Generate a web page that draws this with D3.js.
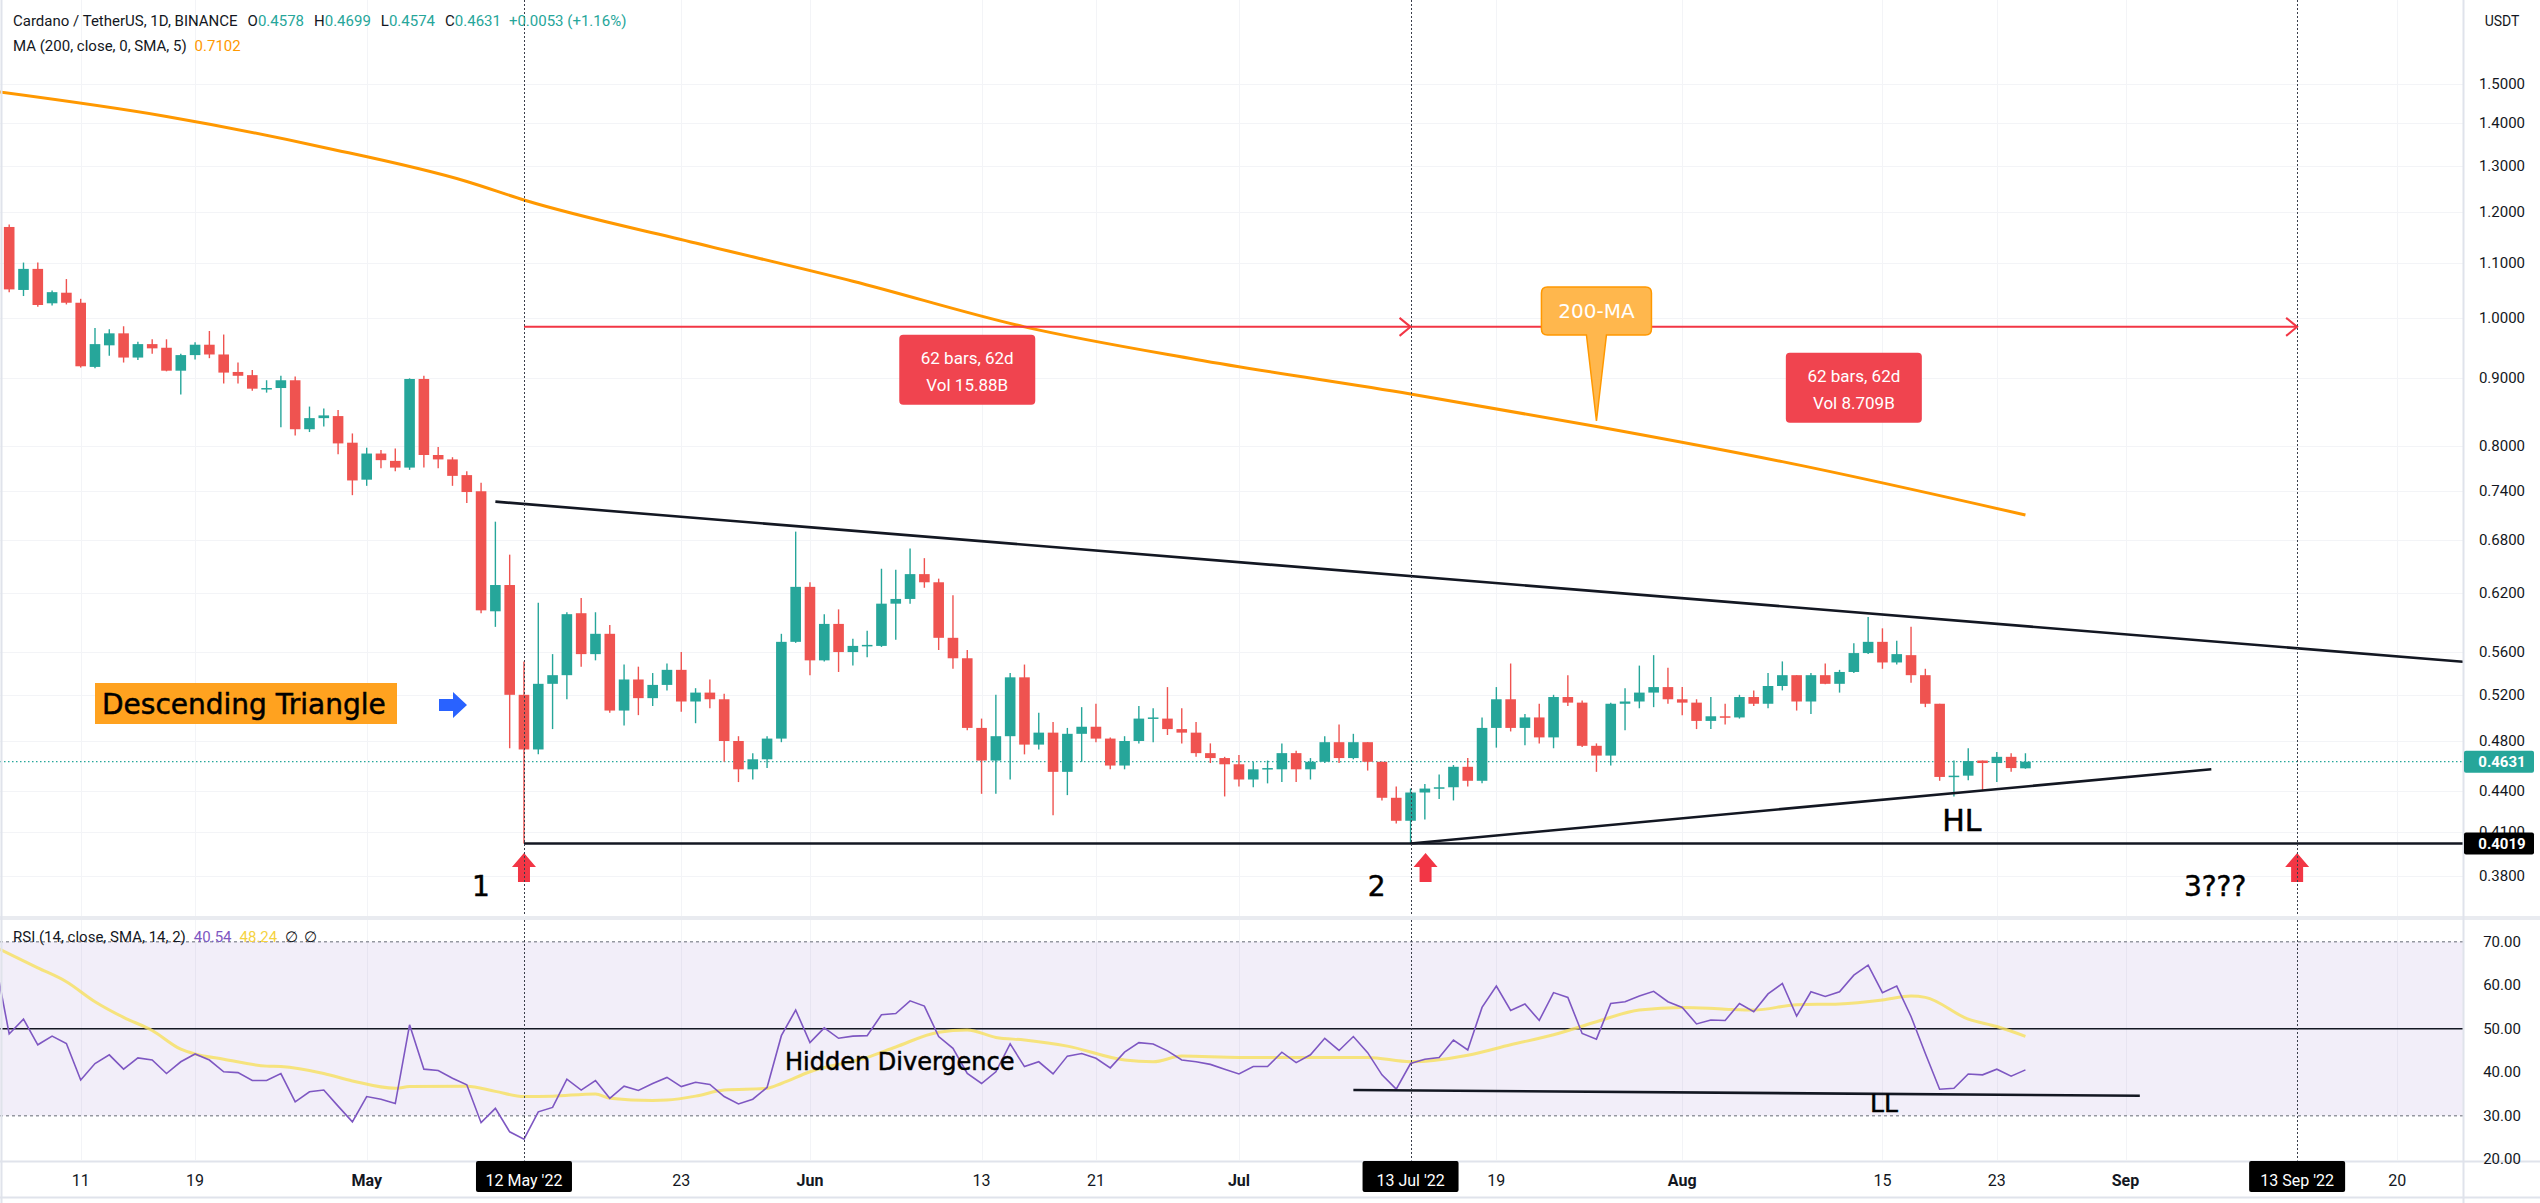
<!DOCTYPE html>
<meta charset="utf-8">
<script src="https://d3js.org/d3.v7.min.js"></script>
<style>
  body { margin: 0; background: #fff; }
  text { font-family: Roboto, "Liberation Sans", sans-serif; fill: #131722; }
  .note { font-family: "DejaVu Sans", Verdana, sans-serif; fill: #000; stroke: #000; stroke-width: 0.5px; }
</style>
<body>
<div id="chart"></div>
<script>

// ---- values ----
// daily ADA/USDT bars, one per day starting at firstBar
var firstBar = "2022-04-06";
var opens = [1.170,1.049,1.088,1.025,1.044,1.026,0.918,0.953,0.973,0.933,
  0.955,0.949,0.912,0.937,0.954,0.938,0.910,0.905,0.884,0.885,
  0.897,0.824,0.840,0.843,0.805,0.755,0.790,0.780,0.771,0.899,
  0.788,0.782,0.761,0.740,0.601,0.629,0.520,0.473,0.530,0.538,
  0.599,0.558,0.578,0.506,0.534,0.517,0.529,0.543,0.514,0.522,
  0.516,0.480,0.457,0.465,0.482,0.570,0.627,0.552,0.588,0.560,
  0.566,0.566,0.609,0.614,0.641,0.632,0.574,0.554,0.491,0.464,
  0.484,0.536,0.477,0.487,0.455,0.486,0.492,0.482,0.460,0.480,
  0.499,0.499,0.490,0.487,0.470,0.466,0.461,0.449,0.457,0.457,
  0.470,0.457,0.463,0.479,0.466,0.479,0.463,0.435,0.418,0.439,
  0.442,0.443,0.459,0.448,0.491,0.516,0.491,0.500,0.483,0.518,
  0.513,0.476,0.468,0.512,0.514,0.522,0.527,0.516,0.513,0.497,
  0.501,0.500,0.518,0.512,0.528,0.538,0.514,0.538,0.530,0.541,
  0.559,0.570,0.550,0.557,0.538,0.512,0.451,0.452,0.464,0.462,
  0.467,0.4578];
var highs = [1.175,1.100,1.100,1.048,1.069,1.033,0.982,0.980,0.985,0.959,
  0.963,0.963,0.939,0.958,0.977,0.971,0.925,0.913,0.897,0.904,
  0.903,0.857,0.854,0.852,0.818,0.798,0.795,0.797,0.900,0.904,
  0.799,0.785,0.766,0.751,0.702,0.663,0.551,0.610,0.558,0.600,
  0.615,0.600,0.587,0.548,0.546,0.540,0.549,0.560,0.526,0.534,
  0.521,0.484,0.470,0.484,0.578,0.690,0.632,0.598,0.603,0.573,
  0.581,0.647,0.646,0.670,0.659,0.636,0.618,0.562,0.499,0.520,
  0.540,0.548,0.504,0.496,0.491,0.509,0.512,0.483,0.484,0.510,
  0.508,0.527,0.508,0.496,0.478,0.467,0.4685,0.463,0.464,0.478,
  0.472,0.466,0.484,0.494,0.486,0.479,0.463,0.4435,0.442,0.4455,
  0.453,0.4604,0.466,0.500,0.527,0.549,0.503,0.512,0.520,0.538,
  0.515,0.478,0.513,0.526,0.547,0.557,0.545,0.527,0.516,0.518,
  0.512,0.520,0.524,0.540,0.551,0.538,0.540,0.549,0.543,0.5685,
  0.595,0.5835,0.571,0.585,0.544,0.512,0.464,0.474,0.464,0.471,
  0.470,0.4699];
var lows = [1.045,1.038,1.019,1.021,1.023,0.917,0.916,0.936,0.925,0.929,
  0.939,0.911,0.875,0.930,0.932,0.892,0.892,0.881,0.878,0.827,
  0.815,0.820,0.828,0.789,0.735,0.747,0.770,0.766,0.768,0.771,
  0.770,0.747,0.725,0.599,0.585,0.474,0.4019,0.469,0.490,0.516,
  0.546,0.552,0.504,0.493,0.502,0.510,0.524,0.505,0.495,0.508,
  0.463,0.447,0.449,0.458,0.479,0.569,0.538,0.551,0.541,0.547,
  0.555,0.565,0.572,0.609,0.626,0.562,0.544,0.489,0.438,0.438,
  0.449,0.469,0.473,0.422,0.437,0.463,0.479,0.457,0.457,0.478,
  0.479,0.485,0.478,0.467,0.462,0.436,0.4435,0.443,0.446,0.447,
  0.447,0.449,0.462,0.462,0.465,0.456,0.433,0.416,0.4019,0.419,
  0.434,0.433,0.4435,0.446,0.4745,0.488,0.4765,0.478,0.474,0.510,
  0.475,0.455,0.460,0.489,0.508,0.509,0.512,0.502,0.490,0.490,
  0.494,0.499,0.510,0.508,0.524,0.506,0.503,0.5295,0.522,0.540,
  0.558,0.544,0.548,0.531,0.509,0.448,0.436,0.4485,0.440,0.447,
  0.455,0.4574];
var closes = [1.050,1.088,1.022,1.045,1.026,0.919,0.955,0.973,0.933,0.955,
  0.948,0.912,0.937,0.954,0.938,0.909,0.904,0.884,0.885,0.897,
  0.824,0.840,0.844,0.804,0.754,0.790,0.781,0.771,0.899,0.788,
  0.782,0.760,0.739,0.602,0.629,0.520,0.473,0.530,0.538,0.598,
  0.558,0.578,0.506,0.534,0.517,0.529,0.543,0.514,0.522,0.516,
  0.480,0.457,0.465,0.482,0.570,0.627,0.552,0.588,0.560,0.566,
  0.567,0.609,0.614,0.641,0.632,0.574,0.554,0.491,0.464,0.484,
  0.536,0.477,0.487,0.455,0.486,0.492,0.482,0.460,0.480,0.499,
  0.500,0.490,0.487,0.470,0.466,0.461,0.449,0.457,0.458,0.470,
  0.457,0.463,0.479,0.466,0.479,0.463,0.435,0.418,0.439,0.442,
  0.443,0.459,0.448,0.491,0.516,0.491,0.500,0.483,0.518,0.513,
  0.476,0.468,0.512,0.514,0.522,0.527,0.516,0.513,0.497,0.501,
  0.500,0.518,0.512,0.528,0.538,0.514,0.538,0.530,0.541,0.559,
  0.570,0.550,0.558,0.538,0.512,0.451,0.452,0.4636,0.462,0.467,
  0.458,0.4631];

// 200 SMA, read at points along the orange line
var maDates = ["2022-04-05","2022-04-17","2022-04-28","2022-05-08","2022-05-12","2022-05-24",
  "2022-06-04","2022-06-16","2022-06-28","2022-07-13","2022-07-26","2022-08-08","2022-08-25"];
var maValues = [1.480,1.417,1.343,1.266,1.226,1.138,1.065,0.984,0.930,0.876,0.828,0.779,0.7102];

// RSI 14, one value per day from rsiFirstDay
var rsiFirstDay = "2022-04-05";
var rsiValues = [66.0,
  48.8,52.2,46.3,48.3,46.6,38.2,42.0,44.0,40.7,43.3,
  42.8,39.7,42.4,44.2,42.8,40.1,39.9,38.1,38.1,39.7,
  33.2,35.5,35.9,32.2,28.6,34.4,33.8,32.8,50.9,40.7,
  40.4,38.6,37.1,28.4,31.7,26.3,24.6,30.9,31.9,38.4,
  35.9,38.1,34.0,36.8,35.8,37.4,38.8,36.7,37.7,37.2,
  34.4,32.7,33.8,36.5,48.4,54.3,46.8,50.2,47.8,48.3,
  48.4,53.2,53.5,56.4,55.2,48.2,45.5,39.7,37.4,40.1,
  46.5,41.3,42.4,39.6,43.7,44.3,43.2,41.0,44.6,46.8,
  46.5,44.9,42.8,42.4,41.8,40.7,39.6,41.3,41.3,44.6,
  42.2,44.0,47.8,45.0,48.2,44.5,39.4,36.1,42.0,43.0,
  43.4,47.4,45.1,54.9,59.8,54.2,55.7,51.9,58.3,57.2,
  48.9,47.6,55.8,56.2,57.5,58.6,56.2,54.9,51.1,52.0,
  51.9,55.8,53.9,58.0,60.4,52.9,58.5,57.4,58.5,62.3,
  64.6,58.3,59.8,52.8,44.3,36.1,36.3,39.6,39.4,40.7,
  39.1,40.54];

// RSI-based SMA (yellow), read at points; day = bars after firstBar
var rsiMaDays = [-1,2,4,6,8,10,12,13,15,18,19,22,24,27,28,32,34,36,38,41,42,45,46,48,50,53,54,56,
  60,62,65,67,69,71,74,78,80,82,86,91,95,98,102,105,108,111,114,117,120,122,125,128,131,133,134,137,139,141];
var rsiMaValues = [68.8,64.0,60.8,56.2,52.6,49.6,45.3,44.2,43.0,41.4,41.3,39.7,38.0,36.3,36.7,36.8,35.6,34.4,34.5,35.0,34.0,33.5,33.6,34.5,35.9,36.3,37.4,40.1,
  43.4,45.8,49.2,49.7,48.0,47.4,46.0,42.8,42.4,43.7,43.4,43.4,43.4,42.4,43.9,46.3,48.6,51.6,54.3,54.9,54.5,54.3,55.5,55.7,56.6,57.5,57.2,52.2,50.5,48.24];

var priceTicks = [1.5,1.4,1.3,1.2,1.1,1.0,0.9,0.8,0.74,0.68,0.62,0.56,0.52,0.48,0.44,0.41,0.38];
var rsiTicks = [70,60,50,40,30,20];
var timeTickDates = ["2022-04-11","2022-04-19","2022-05-01","2022-05-23","2022-06-01","2022-06-13","2022-06-21",
  "2022-07-01","2022-07-19","2022-08-01","2022-08-15","2022-08-23","2022-09-01","2022-09-20"];
var timeTickLabels = ["11","19","May","23","Jun","13","21","Jul","19","Aug","15","23","Sep","20"];
var markedDates = ["2022-05-12","2022-07-13","2022-09-13"];
var markedLabels = ["12 May '22","13 Jul '22","13 Sep '22"];
var markedNames = ["1","2","3???"];
var rangeBoxes = [["62 bars, 62d","Vol 15.88B"],["62 bars, 62d","Vol 8.709B"]];

var lastPrice = 0.4631, supportPrice = 0.4019, rangePrice = 0.984;
var upperTrend = [["2022-05-10",0.7268],["2022-09-13",0.5637]];
var lowerTrend = [["2022-07-13",0.4019],["2022-09-07",0.457]];
var rsiTrend = [["2022-07-09",35.9],["2022-09-02",34.6]];
var calloutDate = "2022-07-26";

// ---- layout ----
var W = 2540, H = 1203;
var plotRight = 2463, mainBottom = 916, rsiTop = 920, rsiBottom = 1160, axisTop = 1161;
var green = "#26a69a", red = "#ef5350", dark = "#131722";

var parse = d3.utcParse("%Y-%m-%d");
var day = 864e5;
var t0 = parse(firstBar);

var bars = opens.map(function (o, i) {
  return { date: new Date(+t0 + i * day), o: o, h: highs[i], l: lows[i], c: closes[i] };
});
var rsi0 = parse(rsiFirstDay);
var rsiData = rsiValues.map(function (v, i) { return { date: new Date(+rsi0 + i * day), v: v }; });
var rsiMa = rsiMaDays.map(function (d, i) { return { date: new Date(+t0 + d * day), v: rsiMaValues[i] }; });
var ma = maDates.map(function (d, i) { return { date: parse(d), v: maValues[i] }; });

// visible range: 14.3px per bar
var x = d3.scaleUtc()
  .domain([new Date(+t0 - 0.643 * day), new Date(+t0 + 171.6 * day)])
  .range([0, plotRight]);
var y = d3.scaleLog().domain([0.3544, 1.734]).range([mainBottom, 0]);
var yr = d3.scaleLinear().domain([19.82, 74.99]).range([rsiBottom, rsiTop]);

var svg = d3.select("#chart").append("svg")
  .attr("width", W).attr("height", H)
  .style("display", "block");

svg.append("rect").attr("width", W).attr("height", H).attr("fill", "#fff");

var defs = svg.append("defs");
defs.append("clipPath").attr("id", "clipMain")
  .append("rect").attr("x", 0).attr("y", 0).attr("width", plotRight).attr("height", mainBottom);
defs.append("clipPath").attr("id", "clipRsi")
  .append("rect").attr("x", 0).attr("y", rsiTop).attr("width", plotRight).attr("height", rsiBottom - rsiTop);

// grid
var grid = svg.append("g");
grid.selectAll(".hg").data(priceTicks).enter().append("line")
  .attr("x1", 0).attr("x2", plotRight)
  .attr("y1", function (d) { return Math.round(y(d)) + 0.5; })
  .attr("y2", function (d) { return Math.round(y(d)) + 0.5; })
  .attr("stroke", "#f3f4f7");
grid.selectAll(".vg").data(timeTickDates).enter().append("line")
  .attr("x1", function (d) { return Math.round(x(parse(d))) + 0.5; })
  .attr("x2", function (d) { return Math.round(x(parse(d))) + 0.5; })
  .attr("y1", 0).attr("y2", rsiBottom)
  .attr("stroke", "#f3f4f7");

// ---- main pane ----
var main = svg.append("g").attr("clip-path", "url(#clipMain)");

// last price line
main.append("line")
  .attr("x1", 0).attr("x2", plotRight)
  .attr("y1", y(lastPrice)).attr("y2", y(lastPrice))
  .attr("stroke", green).attr("stroke-width", 1.2).attr("stroke-dasharray", "1.5,2.5");

// candles
var candle = main.selectAll(".candle").data(bars).enter().append("g");
candle.append("line")
  .attr("x1", function (d) { return x(d.date); })
  .attr("x2", function (d) { return x(d.date); })
  .attr("y1", function (d) { return y(d.h); })
  .attr("y2", function (d) { return y(d.l); })
  .attr("stroke", function (d) { return d.c >= d.o ? green : red; })
  .attr("stroke-width", 1.4);
candle.append("rect")
  .attr("x", function (d) { return x(d.date) - 5.3; })
  .attr("width", 10.6)
  .attr("y", function (d) { return y(Math.max(d.o, d.c)); })
  .attr("height", function (d) { return Math.max(1.5, Math.abs(y(d.o) - y(d.c))); })
  .attr("fill", function (d) { return d.c >= d.o ? green : red; });

// 200 MA
main.append("path").datum(ma)
  .attr("fill", "none").attr("stroke", "#ff9800").attr("stroke-width", 3)
  .attr("d", d3.line().curve(d3.curveMonotoneX)
    .x(function (d) { return x(d.date); })
    .y(function (d) { return y(d.v); }));

// trend lines (straight in screen space)
function pt(a) { return [x(parse(a[0])), y(a[1])]; }
var u0 = pt(upperTrend[0]), u1 = pt(upperTrend[1]);
var slope = (u1[1] - u0[1]) / (u1[0] - u0[0]);
main.append("line")
  .attr("x1", u0[0]).attr("y1", u0[1])
  .attr("x2", plotRight).attr("y2", u0[1] + slope * (plotRight - u0[0]))
  .attr("stroke", dark).attr("stroke-width", 2.6);
var l0 = pt(lowerTrend[0]), l1 = pt(lowerTrend[1]);
main.append("line")
  .attr("x1", l0[0]).attr("y1", l0[1]).attr("x2", l1[0]).attr("y2", l1[1])
  .attr("stroke", dark).attr("stroke-width", 2.6);
main.append("line")
  .attr("x1", x(parse(markedDates[0]))).attr("x2", plotRight)
  .attr("y1", y(supportPrice)).attr("y2", y(supportPrice))
  .attr("stroke", dark).attr("stroke-width", 2.6);

// date range measures
var ry = y(rangePrice);
for (var k = 0; k < 2; k++) {
  var xa = x(parse(markedDates[k])), xb = x(parse(markedDates[k + 1]));
  main.append("line").attr("x1", xa).attr("x2", xb).attr("y1", ry).attr("y2", ry)
    .attr("stroke", "#f23645").attr("stroke-width", 2);
  main.append("path")
    .attr("d", "M" + (xb - 11) + "," + (ry - 9) + "L" + xb + "," + ry + "L" + (xb - 11) + "," + (ry + 9))
    .attr("fill", "none").attr("stroke", "#f23645").attr("stroke-width", 2);
  var boxX = (xa + xb) / 2, boxTop = ry + 8 + k * 18;
  main.append("rect").attr("x", boxX - 68).attr("y", boxTop).attr("width", 136).attr("height", 70)
    .attr("rx", 4).attr("fill", "#f0444f");
  main.append("text").attr("x", boxX).attr("y", boxTop + 29).attr("text-anchor", "middle")
    .style("fill", "#fff").style("font-size", "17px").text(rangeBoxes[k][0]);
  main.append("text").attr("x", boxX).attr("y", boxTop + 56).attr("text-anchor", "middle")
    .style("fill", "#fff").style("font-size", "17px").text(rangeBoxes[k][1]);
}

// 200-MA callout
var callX = x(parse(calloutDate)), tipY = 421;
main.append("path")
  .attr("d", "M" + (callX - 55) + ",293 Q" + (callX - 55) + ",287 " + (callX - 49) + ",287 L" + (callX + 49) + ",287 Q" + (callX + 55) + ",287 " + (callX + 55) + ",293 L" + (callX + 55) + ",329 Q" + (callX + 55) + ",335 " + (callX + 49) + ",335 L" + (callX + 10) + ",335 L" + callX + "," + tipY + " L" + (callX - 10) + ",335 L" + (callX - 49) + ",335 Q" + (callX - 55) + ",335 " + (callX - 55) + ",329 Z")
  .attr("fill", "#ffb74d").attr("stroke", "#ff9800").attr("stroke-width", 1.5);
main.append("text").attr("x", callX).attr("y", 318).attr("text-anchor", "middle")
  .style("font-family", "'DejaVu Sans', sans-serif")
  .style("fill", "#fff").style("font-size", "20px").text("200-MA");

// Descending Triangle label + blue arrow
main.append("rect").attr("x", 95).attr("y", 683).attr("width", 302).attr("height", 41).attr("fill", "#ffa21f");
main.append("text").attr("class", "note").attr("x", 102).attr("y", 714)
  .style("font-size", "28px").text("Descending Triangle");
main.append("path")
  .attr("d", "M439,699 L453,699 L453,692 L467,705 L453,718 L453,711 L439,711 Z")
  .attr("fill", "#2962ff");

// red arrows and numbers
markedDates.forEach(function (d, i) {
  var ax = x(parse(d)) + (i === 1 ? 15 : 0);
  main.append("path")
    .attr("d", "M" + ax + ",853 L" + (ax + 12) + ",867 L" + (ax + 6) + ",867 L" + (ax + 6) + ",882 L" + (ax - 6) + ",882 L" + (ax - 6) + ",867 L" + (ax - 12) + ",867 Z")
    .attr("fill", "#f23645");
});
var nameShift = [-43, -34, -82];
markedDates.forEach(function (d, i) {
  main.append("text").attr("class", "note").attr("x", x(parse(d)) + nameShift[i]).attr("y", 896)
    .attr("text-anchor", "middle").style("font-size", "28px").text(markedNames[i]);
});
main.append("text").attr("class", "note").attr("x", x(parse("2022-08-20")) + 8).attr("y", 831)
  .attr("text-anchor", "middle").style("font-size", "30px").text("HL");

// ---- RSI pane ----
var rsiG = svg.append("g").attr("clip-path", "url(#clipRsi)");
rsiG.append("rect").attr("x", 0).attr("width", plotRight)
  .attr("y", yr(70)).attr("height", yr(30) - yr(70))
  .attr("fill", "rgba(126,87,194,0.1)");
[70, 30].forEach(function (v) {
  rsiG.append("line").attr("x1", 0).attr("x2", plotRight).attr("y1", yr(v)).attr("y2", yr(v))
    .attr("stroke", "#9598a1").attr("stroke-width", 1.6).attr("stroke-dasharray", "3,3");
});
rsiG.append("line").attr("x1", 0).attr("x2", plotRight).attr("y1", yr(50)).attr("y2", yr(50))
  .attr("stroke", dark).attr("stroke-width", 1.6);
rsiG.append("path").datum(rsiMa)
  .attr("fill", "none").attr("stroke", "#f6e05e").attr("stroke-opacity", 0.8).attr("stroke-width", 3)
  .attr("d", d3.line().curve(d3.curveMonotoneX)
    .x(function (d) { return x(d.date); })
    .y(function (d) { return yr(d.v); }));
rsiG.append("path").datum(rsiData)
  .attr("fill", "none").attr("stroke", "#7e57c2").attr("stroke-width", 1.6)
  .attr("d", d3.line()
    .x(function (d) { return x(d.date); })
    .y(function (d) { return yr(d.v); }));
var r0 = [x(parse(rsiTrend[0][0])), yr(rsiTrend[0][1])], r1 = [x(parse(rsiTrend[1][0])), yr(rsiTrend[1][1])];
rsiG.append("line").attr("x1", r0[0]).attr("y1", r0[1]).attr("x2", r1[0]).attr("y2", r1[1])
  .attr("stroke", dark).attr("stroke-width", 2.6);
rsiG.append("text").attr("class", "note").attr("x", 785).attr("y", 1070)
  .style("font-size", "24px").text("Hidden Divergence");
rsiG.append("text").attr("class", "note").attr("x", 1870).attr("y", 1112)
  .style("font-size", "25px").text("LL");

// vertical dotted markers
markedDates.forEach(function (d) {
  svg.append("line")
    .attr("x1", Math.round(x(parse(d))) + 0.5).attr("x2", Math.round(x(parse(d))) + 0.5)
    .attr("y1", 0).attr("y2", axisTop)
    .attr("stroke", "#3a3e4a").attr("stroke-width", 1).attr("stroke-dasharray", "2,2");
});

// pane separators and axis borders
svg.append("rect").attr("x", 0).attr("y", mainBottom).attr("width", W).attr("height", rsiTop - mainBottom).attr("fill", "#e9ebf0");
svg.append("line").attr("x1", 0).attr("x2", W).attr("y1", axisTop + 0.5).attr("y2", axisTop + 0.5).attr("stroke", "#e0e3eb").attr("stroke-width", 2);
svg.append("line").attr("x1", plotRight + 0.5).attr("x2", plotRight + 0.5).attr("y1", 0).attr("y2", H).attr("stroke", "#e0e3eb").attr("stroke-width", 2);
svg.append("line").attr("x1", 0).attr("x2", W).attr("y1", 1197.5).attr("y2", 1197.5).attr("stroke", "#e0e3eb").attr("stroke-width", 2);
svg.append("line").attr("x1", 1.5).attr("x2", 1.5).attr("y1", 0).attr("y2", H).attr("stroke", "#e0e3eb").attr("stroke-width", 2);

// ---- price axis ----
var axisX = 2502;
svg.append("text").attr("x", axisX).attr("y", 26).attr("text-anchor", "middle")
  .style("font-size", "14px").text("USDT");
svg.selectAll(".ptick").data(priceTicks).enter().append("text")
  .attr("x", axisX).attr("y", function (d) { return y(d) + 5; })
  .attr("text-anchor", "middle").style("font-size", "15px")
  .text(function (d) { return d3.format(".4f")(d); });
svg.selectAll(".rtick").data(rsiTicks).enter().append("text")
  .attr("x", axisX).attr("y", function (d) { return yr(d) + 5; })
  .attr("text-anchor", "middle").style("font-size", "15px")
  .text(function (d) { return d3.format(".2f")(d); });

function priceTag(v, color) {
  svg.append("rect").attr("x", plotRight + 1).attr("y", y(v) - 11).attr("width", 70).attr("height", 22)
    .attr("rx", 2).attr("fill", color);
  svg.append("text").attr("x", axisX).attr("y", y(v) + 5.5).attr("text-anchor", "middle")
    .style("font-size", "15px").style("font-weight", "bold").style("fill", "#fff")
    .text(d3.format(".4f")(v));
}
priceTag(lastPrice, green);
priceTag(supportPrice, "#000");

// ---- time axis ----
var months = ["May", "Jun", "Jul", "Aug", "Sep"];
svg.selectAll(".ttick").data(timeTickDates).enter().append("text")
  .attr("x", function (d) { return x(parse(d)); })
  .attr("y", 1186).attr("text-anchor", "middle")
  .style("font-size", "16px")
  .style("font-weight", function (d, i) { return months.indexOf(timeTickLabels[i]) >= 0 ? "bold" : "normal"; })
  .text(function (d, i) { return timeTickLabels[i]; });
markedDates.forEach(function (d, i) {
  var mx = x(parse(d));
  svg.append("rect").attr("x", mx - 48).attr("y", 1161).attr("width", 96).attr("height", 31)
    .attr("rx", 2).attr("fill", "#000");
  svg.append("text").attr("x", mx).attr("y", 1186).attr("text-anchor", "middle")
    .style("font-size", "16px").style("fill", "#fff").text(markedLabels[i]);
});

// ---- legends ----
var head = svg.append("text").attr("x", 13).attr("y", 26).style("font-size", "15px");
head.append("tspan").text("Cardano / TetherUS, 1D, BINANCE");
[["O", "0.4578"], ["H", "0.4699"], ["L", "0.4574"], ["C", "0.4631"]].forEach(function (p) {
  head.append("tspan").attr("dx", 10).text(p[0]);
  head.append("tspan").style("fill", green).text(p[1]);
});
head.append("tspan").attr("dx", 8).style("fill", green).text("+0.0053 (+1.16%)");

var maHead = svg.append("text").attr("x", 13).attr("y", 51).style("font-size", "15px");
maHead.append("tspan").text("MA (200, close, 0, SMA, 5)");
maHead.append("tspan").attr("dx", 8).style("fill", "#ff9800").text("0.7102");

var rsiHead = svg.append("text").attr("x", 13).attr("y", 942).style("font-size", "15px");
rsiHead.append("tspan").text("RSI (14, close, SMA, 14, 2)");
rsiHead.append("tspan").attr("dx", 8).style("fill", "#7e57c2").text("40.54");
rsiHead.append("tspan").attr("dx", 8).style("fill", "#f5d33f").text("48.24");
rsiHead.append("tspan").attr("dx", 8).text("∅");
rsiHead.append("tspan").attr("dx", 6).text("∅");

</script>
</body>
